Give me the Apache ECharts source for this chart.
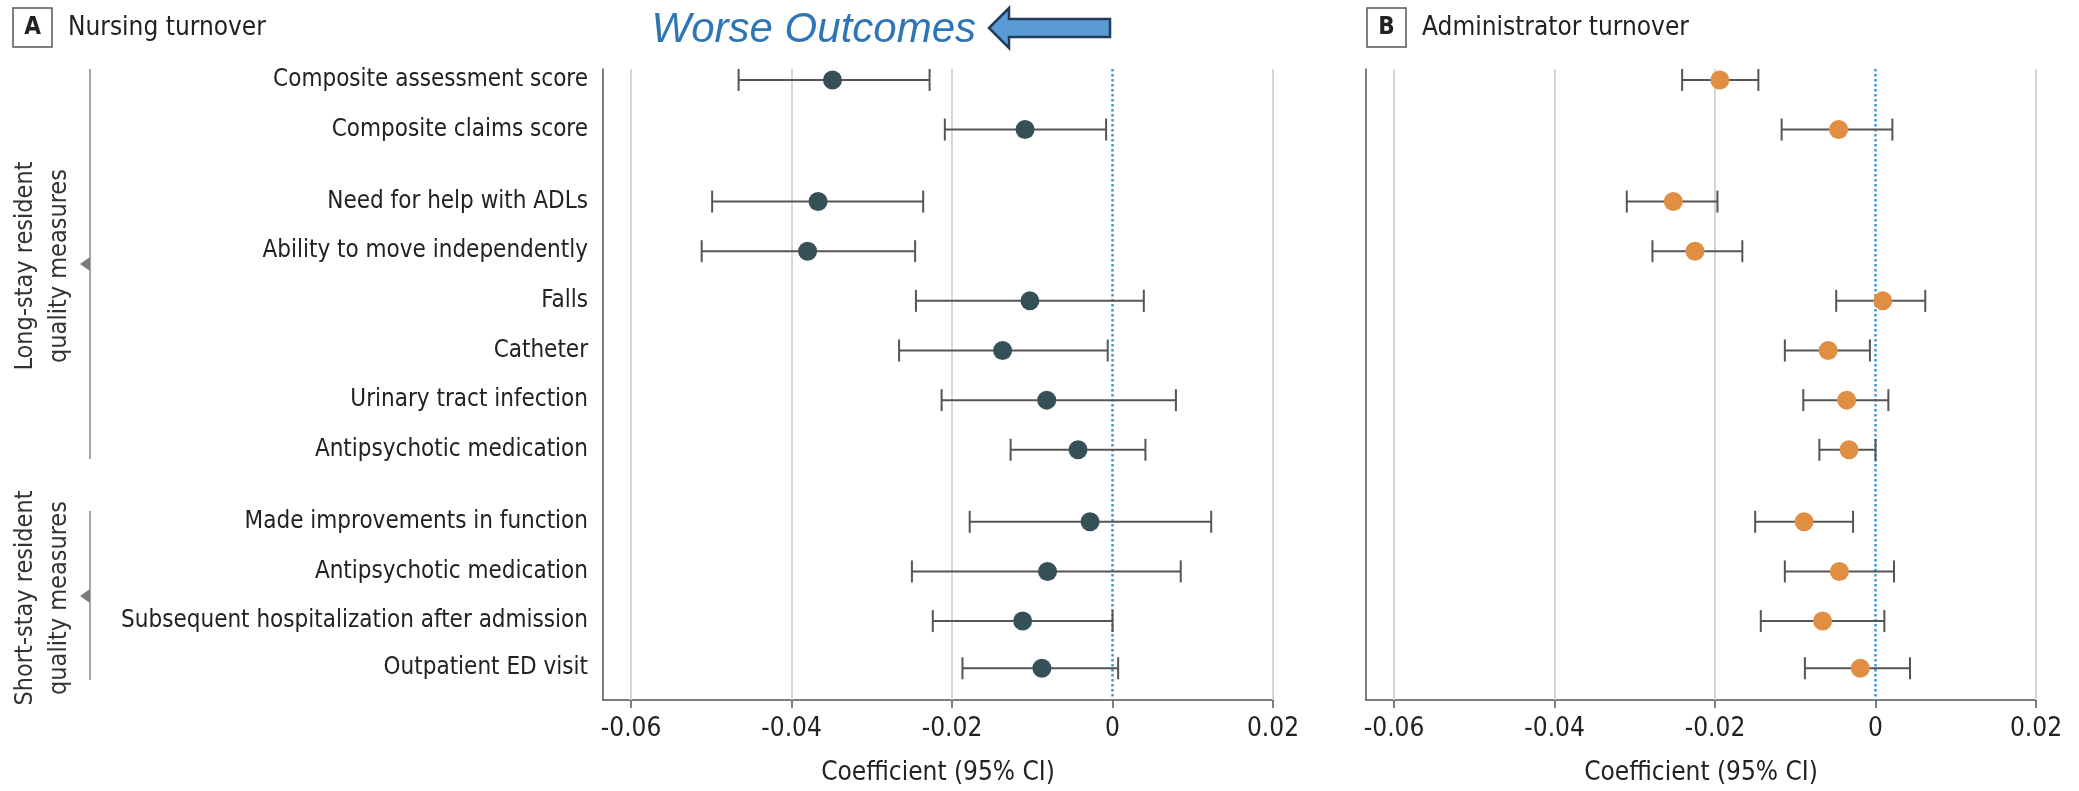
<!DOCTYPE html>
<html>
<head>
<meta charset="utf-8">
<script src="https://cdn.jsdelivr.net/npm/echarts@6/dist/echarts.min.js"></script>
<style>
  html, body { margin: 0; padding: 0; background: #fff; }
  #chart { width: 2079px; height: 791px; }
</style>
</head>
<body>
<div id="chart"></div>
<script>
// measures, top to bottom
var measures = [
  'Composite assessment score',
  'Composite claims score',
  'Need for help with ADLs',
  'Ability to move independently',
  'Falls',
  'Catheter',
  'Urinary tract infection',
  'Antipsychotic medication',
  'Made improvements in function',
  'Antipsychotic medication',
  'Subsequent hospitalization after admission',
  'Outpatient ED visit'
]
// vertical slot of each measure (gaps between groups)
var rowPos = [0, 1, 2.45, 3.45, 4.45, 5.45, 6.45, 7.45, 8.9, 9.9, 10.9, 11.85]

// A: nursing turnover
var nurseEst = [-0.0349, -0.0109, -0.0367, -0.0380, -0.0103, -0.0137, -0.0082, -0.0043, -0.0028, -0.0081, -0.0112, -0.0088]
var nurseLo = [-0.0466, -0.0209, -0.0499, -0.0512, -0.0245, -0.0266, -0.0213, -0.0127, -0.0178, -0.0250, -0.0224, -0.0187]
var nurseHi = [-0.0228, -0.0008, -0.0236, -0.0246, 0.0039, -0.0006, 0.0079, 0.0041, 0.0123, 0.0085, 0.0000, 0.0007]

// B: administrator turnover
var adminEst = [-0.0194, -0.0046, -0.0252, -0.0225, 0.0009, -0.0059, -0.0036, -0.0033, -0.0089, -0.0045, -0.0066, -0.0019]
var adminLo = [-0.0241, -0.0117, -0.0310, -0.0278, -0.0049, -0.0113, -0.0090, -0.0070, -0.0150, -0.0113, -0.0143, -0.0088]
var adminHi = [-0.0146, 0.0021, -0.0197, -0.0166, 0.0062, -0.0007, 0.0016, 0.0000, -0.0028, 0.0023, 0.0011, 0.0043]

var xTicks = [-0.06, -0.04, -0.02, 0, 0.02]

var FONT = "'DejaVu Sans Condensed', 'Liberation Sans Narrow', 'DejaVu Sans', sans-serif"

var chart = echarts.init(document.getElementById('chart'))

function labelFor(v) {
  for (var i = 0; i < rowPos.length; i++) {
    if (Math.abs(rowPos[i] - v) < 1e-6) return measures[i]
  }
  return ''
}

function xAxisFor(gridIndex) {
  return {
    type: 'value',
    gridIndex: gridIndex,
    min: -0.0635,
    max: 0.02,
    name: 'Coefficient (95% CI)',
    nameLocation: 'middle',
    nameGap: 60,
    nameTextStyle: { fontFamily: FONT, fontSize: 26, color: '#222' },
    axisLine: { show: true, onZero: false, lineStyle: { color: '#555', width: 1.5 } },
    axisTick: { show: true, customValues: xTicks, length: 8, lineStyle: { color: '#555', width: 1.5 } },
    axisLabel: {
      customValues: xTicks,
      margin: 16,
      fontFamily: FONT,
      fontSize: 26,
      color: '#222',
      formatter: function (v) { return v === 0 ? '0' : v.toFixed(2) }
    },
    splitLine: { show: false }
  }
}

function yAxisFor(gridIndex, showLabels) {
  return {
    type: 'value',
    gridIndex: gridIndex,
    inverse: true,
    min: -0.22,
    max: 12.49,
    axisLine: { show: true, onZero: false, lineStyle: { color: '#555', width: 1.5 } },
    axisTick: { show: false },
    splitLine: { show: false },
    axisLabel: {
      show: showLabels,
      customValues: rowPos,
      margin: 15,
      fontFamily: FONT,
      fontSize: 24,
      color: '#222',
      formatter: labelFor
    }
  }
}

function ciData(lo, hi) {
  return lo.map(function (l, i) { return [l, hi[i], rowPos[i]] })
}

function pointData(est) {
  return est.map(function (e, i) { return [e, rowPos[i]] })
}

function renderCI(params, api) {
  var pos = api.value(2)
  var a = api.coord([api.value(0), pos])
  var b = api.coord([api.value(1), pos])
  var cap = 11
  var style = { stroke: '#555', lineWidth: 2 }
  return {
    type: 'group',
    children: [
      { type: 'line', shape: { x1: a[0], y1: a[1], x2: b[0], y2: b[1] }, style: style },
      { type: 'line', shape: { x1: a[0], y1: a[1] - cap, x2: a[0], y2: a[1] + cap }, style: style },
      { type: 'line', shape: { x1: b[0], y1: b[1] - cap, x2: b[0], y2: b[1] + cap }, style: style }
    ]
  }
}

// light vertical grid at every tick except zero (zero gets the dotted line)
var gridLines = {
  symbol: 'none',
  silent: true,
  z: 1,
  label: { show: false },
  lineStyle: { type: 'solid', color: '#d6d6d6', width: 2 },
  data: xTicks.filter(function (t) { return t !== 0 }).map(function (t) { return { xAxis: t } })
}

var zeroLine = {
  symbol: 'none',
  silent: true,
  z: 2,
  label: { show: false },
  lineStyle: { type: 'dotted', color: '#3a9ad9', width: 2.5 },
  data: [{ xAxis: 0 }]
}

var grayTri = '#7a7a7a'

chart.setOption({
  backgroundColor: '#fff',
  animation: false,
  grid: [
    { left: 603, right: 806, top: 69, bottom: 89 },
    { left: 1366, right: 43, top: 69, bottom: 89 }
  ],
  xAxis: [xAxisFor(0), xAxisFor(1)],
  yAxis: [yAxisFor(0, true), yAxisFor(1, false)],
  graphic: [
    // panel headers
    { type: 'rect', shape: { x: 13, y: 8, width: 39, height: 39 }, style: { fill: '#fff', stroke: '#555', lineWidth: 1.5 } },
    { type: 'text', x: 32.5, y: 28, style: { text: 'A', font: 'bold 24px ' + FONT, fill: '#222', textAlign: 'center', textVerticalAlign: 'middle' } },
    { type: 'text', x: 68, y: 28, style: { text: 'Nursing turnover', font: '26px ' + FONT, fill: '#222', textVerticalAlign: 'middle' } },
    { type: 'rect', shape: { x: 1367, y: 8, width: 39, height: 39 }, style: { fill: '#fff', stroke: '#555', lineWidth: 1.5 } },
    { type: 'text', x: 1386.5, y: 28, style: { text: 'B', font: 'bold 24px ' + FONT, fill: '#222', textAlign: 'center', textVerticalAlign: 'middle' } },
    { type: 'text', x: 1422, y: 28, style: { text: 'Administrator turnover', font: '26px ' + FONT, fill: '#222', textVerticalAlign: 'middle' } },
    // worse outcomes annotation
    { type: 'text', x: 976, y: 30, style: { text: 'Worse Outcomes', font: 'italic 42px "Liberation Sans", Arial, sans-serif', fill: '#2e75b6', textAlign: 'right', textVerticalAlign: 'middle' } },
    {
      type: 'polygon',
      shape: { points: [[989, 28], [1009, 8], [1009, 19], [1110, 19], [1110, 37], [1009, 37], [1009, 48]] },
      style: { fill: '#5b9bd5', stroke: '#203b5c', lineWidth: 2.5 }
    },
    // group brackets
    { type: 'line', shape: { x1: 90, y1: 69, x2: 90, y2: 459 }, style: { stroke: '#8a8a8a', lineWidth: 1.5 } },
    { type: 'polygon', shape: { points: [[80, 264], [90, 257], [90, 271]] }, style: { fill: grayTri } },
    { type: 'text', x: 42, y: 266, rotation: Math.PI / 2, style: { text: 'Long-stay resident\nquality measures', font: '25px ' + FONT, lineHeight: 34, fill: '#333', textAlign: 'center', textVerticalAlign: 'middle' } },
    { type: 'line', shape: { x1: 90, y1: 511, x2: 90, y2: 680 }, style: { stroke: '#8a8a8a', lineWidth: 1.5 } },
    { type: 'polygon', shape: { points: [[80, 596], [90, 589], [90, 603]] }, style: { fill: grayTri } },
    { type: 'text', x: 42, y: 598, rotation: Math.PI / 2, style: { text: 'Short-stay resident\nquality measures', font: '25px ' + FONT, lineHeight: 34, fill: '#333', textAlign: 'center', textVerticalAlign: 'middle' } }
  ],
  series: [
    {
      type: 'custom',
      xAxisIndex: 0,
      yAxisIndex: 0,
      renderItem: renderCI,
      encode: { x: [0, 1], y: 2 },
      data: ciData(nurseLo, nurseHi),
      markLine: gridLines,
      z: 3
    },
    {
      type: 'scatter',
      xAxisIndex: 0,
      yAxisIndex: 0,
      symbolSize: 19,
      itemStyle: { color: '#36505a', opacity: 1 },
      data: pointData(nurseEst),
      markLine: zeroLine,
      z: 4
    },
    {
      type: 'custom',
      xAxisIndex: 1,
      yAxisIndex: 1,
      renderItem: renderCI,
      encode: { x: [0, 1], y: 2 },
      data: ciData(adminLo, adminHi),
      markLine: gridLines,
      z: 3
    },
    {
      type: 'scatter',
      xAxisIndex: 1,
      yAxisIndex: 1,
      symbolSize: 19,
      itemStyle: { color: '#e08f42', opacity: 1 },
      data: pointData(adminEst),
      markLine: zeroLine,
      z: 4
    }
  ]
})
</script>
</body>
</html>
